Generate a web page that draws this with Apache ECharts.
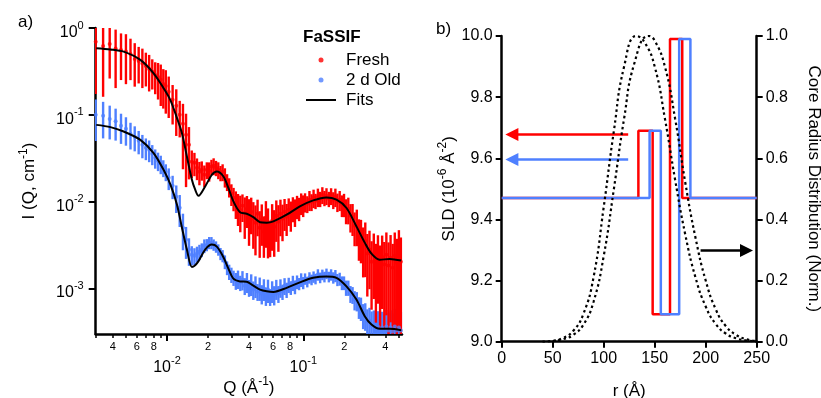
<!DOCTYPE html>
<html><head><meta charset="utf-8">
<script src="https://cdn.jsdelivr.net/npm/echarts@6/dist/echarts.min.js"></script>
<style>html,body{margin:0;padding:0;background:#fff}#c{width:821px;height:398px}</style>
</head><body><div id="c"></div>
<script>
// ---------- Panel a: scattering data ----------
const qGrid = [
0.0030,0.0034,0.0038,0.0042,0.0046,0.0050,0.0054,0.0058,0.0062,0.0066,0.0070,0.0074,0.0078,0.0082,0.0086,0.0090,0.0094,0.0098,
0.0103,0.0110,0.0117,0.0124,0.0131,0.0138,0.0145,0.0152,0.0159,0.0166,0.0173,0.0180,0.0188,0.0196,0.0204,0.0212,0.0220,0.0229,0.0238,0.0247,0.0256,0.0266,0.0276,0.0286,0.0297,
0.0308,0.0320,0.0332,0.0345,0.0358,0.0372,0.0386,0.0400,0.0415,0.0430,0.0446,0.0462,0.0479,0.0496,0.0514,0.0532,0.0551,0.0571,0.0591,0.0612,0.0634,0.0657,0.0680,0.0704,0.0729,0.0755,0.0782,0.0810,0.0839,0.0869,0.0900,0.0932,0.0965,0.0999,
0.103,0.107,0.111,0.115,0.119,0.123,0.128,0.133,0.138,0.143,0.148,0.154,0.160,0.166,0.172,0.178,0.185,0.192,0.199,0.206,0.214,0.222,0.230,0.238,0.247,0.256,0.265,0.275,0.285,0.295,0.306,0.317,0.329,0.341,0.353,0.366,0.379,0.393,0.407,0.422,0.437,0.453,0.469,0.486,0.503,0.520];

const freshI = [
0.696,0.621,0.655,0.581,0.559,0.537,0.502,0.440,0.418,0.391,0.366,0.338,0.316,0.288,0.273,0.253,0.227,0.215,
0.184,0.149,0.127,0.100,0.0788,0.0589,0.0452,0.0288,0.0281,0.0246,0.0221,0.0233,0.0204,0.0233,0.0227,0.0253,0.0259,0.0246,0.0233,0.0215,0.0221,0.0194,0.0170,0.0149,0.0124,
0.0111,0.00974,0.00876,0.00809,0.00899,0.00747,0.00831,0.00690,0.00768,0.00638,0.00574,0.00728,0.00502,0.00621,0.00452,0.00655,0.00530,0.00418,0.00605,0.00516,0.00690,0.00589,0.00728,0.00638,0.00768,0.00672,0.00809,0.00728,0.00853,0.00788,0.00899,0.00853,0.00974,0.00924,
0.0100,0.00948,0.01054,0.0100,0.0111,0.01027,0.01141,0.01083,0.01204,0.0111,0.01172,0.01083,0.01172,0.01054,0.01141,0.0100,0.01054,0.00924,0.00948,0.00809,0.00831,0.00690,0.00672,0.00530,0.00559,0.00418,0.00407,0.00320,0.00356,0.00253,0.00281,0.00204,0.00253,0.00184,0.00239,0.00174,0.00233,0.00189,0.00246,0.00184,0.00227,0.00174,0.00239,0.00199,0.00253,0.00204];

const freshErrPct = [
75,74,60,65,55,58,50,52,45,48,42,45,38,40,45,50,48,52,
50,48,55,45,70,75,60,35,30,28,30,25,28,22,25,20,22,20,22,20,22,25,22,25,28,
30,35,40,45,35,50,40,55,45,55,58,45,55,50,50,55,58,45,55,55,50,55,45,45,40,40,35,38,32,35,30,30,28,28,
25,22,26,22,24,20,24,20,22,20,22,20,22,22,24,24,26,28,30,32,34,36,40,42,45,50,52,58,62,68,65,72,70,78,72,80,75,82,80,85,82,88,85,88,86,90];

const oldI = [
0.100,0.0974,0.0899,0.0842,0.0747,0.0690,0.0605,0.0559,0.0502,0.0452,0.0418,0.0396,0.0356,0.0320,0.0296,0.0273,0.0246,0.0221,
0.0189,0.0153,0.0114,0.00853,0.00502,0.00366,0.00281,0.00246,0.00239,0.00253,0.00266,0.00281,0.00312,0.00320,0.00338,0.00338,0.00320,0.00304,0.00281,0.00253,0.00239,0.00204,0.00174,0.00157,0.00145,
0.00134,0.00124,0.00130,0.00117,0.00127,0.00108,0.00120,0.00103,0.00114,0.000974,0.00108,0.000924,0.00103,0.000876,0.00100,0.000831,0.000974,0.000809,0.000948,0.000853,0.00100,0.000876,0.00103,0.000924,0.00108,0.000974,0.00111,0.00103,0.00117,0.00105,0.00120,0.00114,0.00127,0.00117,
0.00130,0.00120,0.00134,0.00127,0.00137,0.00130,0.00145,0.00134,0.00145,0.00137,0.00149,0.00137,0.00145,0.00134,0.00141,0.00127,0.00130,0.00117,0.00117,0.00103,0.00103,0.000876,0.000853,0.000747,0.000728,0.000621,0.000605,0.000502,0.000502,0.000418,0.000429,0.000376,0.000386,0.000338,0.000366,0.000329,0.000356,0.000320,0.000366,0.000329,0.000356,0.000320,0.000366,0.000329,0.000356,0.000329];

const oldErrPct = [
50,45,42,40,38,36,34,32,30,30,28,28,26,25,24,24,22,22,
28,30,35,40,45,40,35,25,22,20,20,18,18,16,16,16,15,15,15,16,16,18,18,20,20,
20,22,24,20,25,22,26,22,28,24,28,22,30,25,28,24,30,22,28,25,26,22,24,20,22,20,20,18,20,18,18,16,18,16,
15,14,15,14,15,14,15,14,14,14,14,14,15,15,16,16,17,18,18,20,20,22,22,25,25,28,30,32,35,38,40,45,45,50,50,55,52,58,55,60,58,62,60,62,60,65];

const fitQ = [0.00303,0.00385,0.00481,0.00638,0.00798,0.00944,0.01057,0.01183,0.01288,0.0140,0.01524,0.01611,0.01703,0.01906,0.02133,0.02321,0.02596,0.02823,0.0307,0.03436,0.03845,0.04301,0.04817,0.05392,0.06031,0.07548,0.09444,0.1181,0.1478,0.1752,0.2075,0.2455,0.2825,0.3162,0.3631,0.4297,0.5233];
const freshFit = [0.585,0.566,0.534,0.429,0.301,0.203,0.149,0.0924,0.0616,0.0332,0.0179,0.01374,0.0117,0.0150,0.0204,0.0223,0.0195,0.0144,0.0101,0.00757,0.00728,0.00664,0.00581,0.00574,0.00594,0.00709,0.00883,0.01035,0.0112,0.01054,0.00847,0.0052,0.00338,0.00252,0.00215,0.00219,0.0021];
const oldFit = [0.0767,0.0722,0.0643,0.0516,0.0363,0.0233,0.0159,0.00931,0.00502,0.00281,0.00177,0.00186,0.00207,0.00281,0.00321,0.00304,0.00230,0.00170,0.00130,0.00121,0.00120,0.00108,0.000974,0.000931,0.000916,0.00102,0.00118,0.00133,0.00138,0.00133,0.00106,0.000748,0.000481,0.000386,0.000344,0.000344,0.000332];

const xMinorTicks = [0.003,0.004,0.005,0.006,0.007,0.008,0.009,0.02,0.03,0.04,0.05,0.06,0.07,0.08,0.09,0.2,0.3,0.4,0.5];
const xMinorLabels = [0.004,0.006,0.008,0.02,0.04,0.06,0.08,0.2,0.4];
const xMajorTicks = [0.01,0.1];
const yMajorTicks = [0.001,0.01,0.1,1];

// ---------- Panel b: SLD profiles ----------
const freshR = [0,134,148,165,177,250];
const freshSLD = [9.47,9.69,9.09,9.99,9.47,9.47];
const oldR = [0,145,156,174,185,250];
const oldSLD = [9.47,9.69,9.09,9.99,9.47,9.47];
const dist1R = [40,50,60,70,80,90,100,110,120,132,140,150,160,170,180,190,200,210,220,230,240,250];
const dist1V = [0,0.003,0.012,0.035,0.09,0.21,0.44,0.69,0.90,1.0,0.98,0.90,0.73,0.53,0.35,0.21,0.115,0.057,0.026,0.011,0.004,0.001];
const dist2R = [50,60,70,80,90,100,110,120,130,144,150,160,170,180,190,200,210,220,230,240,250];
const dist2V = [0.002,0.008,0.022,0.055,0.13,0.28,0.5,0.73,0.91,1.0,0.985,0.9,0.73,0.52,0.34,0.2,0.105,0.05,0.022,0.008,0.002];
const arrowFresh = {r:[124,10], sld:9.678};
const arrowOld = {r:[124,10], sld:9.596};
const arrowDist = {r:[195,240], v:0.298};

// ---------- styling ----------
const FONT = '"Liberation Sans", Arial, Helvetica, sans-serif';
const RED = '#ff0000', BLUE = '#4f80ff', BLK = '#000';
const tickRich = {
  b:{fontSize:16, fontFamily:FONT, color:BLK, lineHeight:16, padding:[9,0,0,0]},
  s:{fontSize:11, fontFamily:FONT, color:BLK, lineHeight:11, verticalAlign:'top'}
};
const nameRich = {
  n:{fontSize:17, fontFamily:FONT, color:BLK, lineHeight:18, padding:[6,0,0,0]},
  s:{fontSize:12, fontFamily:FONT, color:BLK, lineHeight:12, verticalAlign:'top'}
};
function pow10Label(v){ return '{b|10}{s|' + Math.round(Math.log10(v)) + '}'; }
function leadDigit(v){ return String(Math.round(v / Math.pow(10, Math.floor(Math.log10(v) + 1e-9)))); }

function errSeries(I, pct, color){
  return {
    type:'custom', xAxisIndex:0, yAxisIndex:0, clip:true, silent:true, z:2,
    encode:{x:0, y:1},
    data: qGrid.map((q,k)=>[q, I[k], I[k]*pct[k]/100]),
    renderItem(params, api){
      const q = api.value(0), v = api.value(1), e = api.value(2);
      const p1 = api.coord([q, v + e]);
      const p2 = api.coord([q, Math.max(v - e, 1e-6)]);
      return {type:'line', shape:{x1:p1[0], y1:p1[1], x2:p2[0], y2:p2[1]}, style:{stroke:color, lineWidth:2.4}};
    }
  };
}
function stepData(R, S){ return R.map((r,k)=>[r, S[k]]); }
const axisLineStyle = {show:true, onZero:false, lineStyle:{color:BLK, width:2.5}};

const chart = echarts.init(document.getElementById('c'), null, {renderer:'canvas'});
chart.setOption({
  animation:false,
  backgroundColor:'#fff',
  textStyle:{fontFamily:FONT, color:BLK},
  title:[
    {text:'a)', left:18, top:14, padding:0, textStyle:{fontSize:17, fontWeight:'normal', fontFamily:FONT, color:BLK}},
    {text:'b)', left:436, top:21, padding:0, textStyle:{fontSize:17, fontWeight:'normal', fontFamily:FONT, color:BLK}},
    {text:'FaSSIF', left:303, top:29, padding:0, textStyle:{fontSize:17, fontWeight:'bold', fontFamily:FONT, color:BLK}}
  ],
  legend:{
    data:['Fresh','2 d Old',{name:'Fits', itemStyle:{opacity:0}}], orient:'vertical', left:305, top:50, padding:0,
    itemWidth:30, itemHeight:5, itemGap:0, selectedMode:false,
    textStyle:{fontSize:17, fontFamily:FONT, color:BLK, lineHeight:20, padding:[0,0,0,5]}
  },
  grid:[
    {left:95.7, top:28, width:306.3, height:306, outerBoundsMode:'none', containLabel:false},
    {left:501.7, top:36, width:255, height:305.7, outerBoundsMode:'none', containLabel:false}
  ],
  xAxis:[
    {gridIndex:0, type:'log', logBase:10, min:0.003, max:0.53, position:'bottom',
     axisLine:axisLineStyle,
     axisTick:{show:true, customValues:xMinorTicks, length:4, lineStyle:{color:BLK, width:1.5}},
     axisLabel:{customValues:xMinorLabels, formatter:leadDigit, fontSize:11, fontFamily:FONT, color:BLK, margin:7},
     splitLine:{show:false}, minorTick:{show:false}},
    {gridIndex:0, type:'log', logBase:10, min:0.003, max:0.53, position:'bottom',
     axisLine:{show:false, onZero:false},
     axisTick:{show:true, customValues:xMajorTicks, length:7, lineStyle:{color:BLK, width:2}},
     axisLabel:{customValues:xMajorTicks, formatter:pow10Label, rich:tickRich, margin:21},
     splitLine:{show:false},
     name:'{n|Q (Å}{s|-1}{n|)}', nameLocation:'middle', nameGap:42, nameMoveOverlap:false, nameTextStyle:{rich:nameRich}},
    {gridIndex:1, type:'value', min:0, max:250, interval:50,
     axisLine:axisLineStyle,
     axisTick:{show:true, length:6, lineStyle:{color:BLK, width:2}},
     axisLabel:{fontSize:16, fontFamily:FONT, color:BLK, margin:9},
     splitLine:{show:false},
     name:'r (Å)', nameLocation:'middle', nameGap:41, nameMoveOverlap:false, nameTextStyle:{fontSize:17, fontFamily:FONT, color:BLK}}
  ],
  yAxis:[
    {gridIndex:0, type:'log', logBase:10, min:0.0003, max:1,
     axisLine:axisLineStyle,
     axisTick:{show:true, customValues:yMajorTicks, length:7, lineStyle:{color:BLK, width:2}},
     axisLabel:{customValues:yMajorTicks, formatter:pow10Label, rich:tickRich, margin:12},
     splitLine:{show:false}, minorTick:{show:false},
     name:'{n|I (Q, cm}{s|-1}{n|)}', nameLocation:'middle', nameGap:60, nameTextStyle:{rich:nameRich}},
    {gridIndex:1, type:'value', min:9, max:10, interval:0.2,
     axisLine:axisLineStyle,
     axisTick:{show:true, length:6, lineStyle:{color:BLK, width:2}},
     axisLabel:{formatter:v=>v.toFixed(1), fontSize:16, fontFamily:FONT, color:BLK, margin:9},
     splitLine:{show:false},
     name:'{n|SLD (10}{s|-6}{n| Å}{s|-2}{n|)}', nameLocation:'middle', nameGap:44, nameTextStyle:{rich:nameRich}},
    {gridIndex:1, type:'value', min:0, max:1, interval:0.2, position:'right',
     axisLine:axisLineStyle,
     axisTick:{show:true, length:6, lineStyle:{color:BLK, width:2}},
     axisLabel:{formatter:v=>v.toFixed(1), fontSize:16, fontFamily:FONT, color:BLK, margin:9},
     splitLine:{show:false},
     name:'Core Radius Distribution (Norm.)', nameLocation:'middle', nameGap:48, nameRotate:-90,
     nameTextStyle:{fontSize:17, fontFamily:FONT, color:BLK}}
  ],
  series:[
    errSeries(oldI, oldErrPct, BLUE),
    {type:'scatter', name:'2 d Old', xAxisIndex:0, yAxisIndex:0, symbol:'circle', symbolSize:4, z:3, silent:true,
     itemStyle:{color:BLUE}, data:qGrid.map((q,k)=>[q, oldI[k]])},
    errSeries(freshI, freshErrPct, RED),
    {type:'scatter', name:'Fresh', xAxisIndex:0, yAxisIndex:0, symbol:'circle', symbolSize:4, z:3, silent:true,
     itemStyle:{color:RED}, data:qGrid.map((q,k)=>[q, freshI[k]])},
    {type:'line', name:'Fits', xAxisIndex:0, yAxisIndex:0, symbol:'none', showSymbol:false, smooth:0.3, z:5, silent:true,
     lineStyle:{color:BLK, width:2}, itemStyle:{color:BLK}, data:fitQ.map((q,k)=>[q, freshFit[k]])},
    {type:'line', name:'Fits', xAxisIndex:0, yAxisIndex:0, symbol:'none', showSymbol:false, smooth:0.3, z:5, silent:true,
     lineStyle:{color:BLK, width:2}, itemStyle:{color:BLK}, data:fitQ.map((q,k)=>[q, oldFit[k]])},
    // panel b
    {type:'line', name:'Fresh SLD', xAxisIndex:2, yAxisIndex:1, step:'end', symbol:'none', silent:true, z:3,
     lineStyle:{color:RED, width:2.5}, itemStyle:{color:RED}, data:stepData(freshR, freshSLD),
     markLine:{silent:true, symbol:['none','triangle'], symbolSize:13, label:{show:false},
       lineStyle:{color:RED, width:2.5, type:'solid'},
       data:[[{coord:[arrowFresh.r[0], arrowFresh.sld]},{coord:[arrowFresh.r[1], arrowFresh.sld]}]]}},
    {type:'line', name:'Old SLD', xAxisIndex:2, yAxisIndex:1, step:'end', symbol:'none', silent:true, z:4,
     lineStyle:{color:BLUE, width:2.5}, itemStyle:{color:BLUE}, data:stepData(oldR, oldSLD),
     markLine:{silent:true, symbol:['none','triangle'], symbolSize:13, label:{show:false},
       lineStyle:{color:BLUE, width:2.5, type:'solid'},
       data:[[{coord:[arrowOld.r[0], arrowOld.sld]},{coord:[arrowOld.r[1], arrowOld.sld]}]]}},
    {type:'line', name:'Dist 1', xAxisIndex:2, yAxisIndex:2, symbol:'none', smooth:0.5, silent:true, z:5,
     lineStyle:{color:BLK, width:2.2, type:[2.5,3]}, itemStyle:{color:BLK}, data:dist1R.map((r,k)=>[r, dist1V[k]]),
     markLine:{silent:true, symbol:['none','triangle'], symbolSize:13, label:{show:false},
       lineStyle:{color:BLK, width:2.5, type:'solid'},
       data:[[{coord:[arrowDist.r[0], arrowDist.v]},{coord:[arrowDist.r[1], arrowDist.v]}]]}},
    {type:'line', name:'Dist 2', xAxisIndex:2, yAxisIndex:2, symbol:'none', smooth:0.5, silent:true, z:5,
     lineStyle:{color:BLK, width:2.2, type:[2.5,3]}, itemStyle:{color:BLK}, data:dist2R.map((r,k)=>[r, dist2V[k]])}
  ]
});
</script></body></html>
